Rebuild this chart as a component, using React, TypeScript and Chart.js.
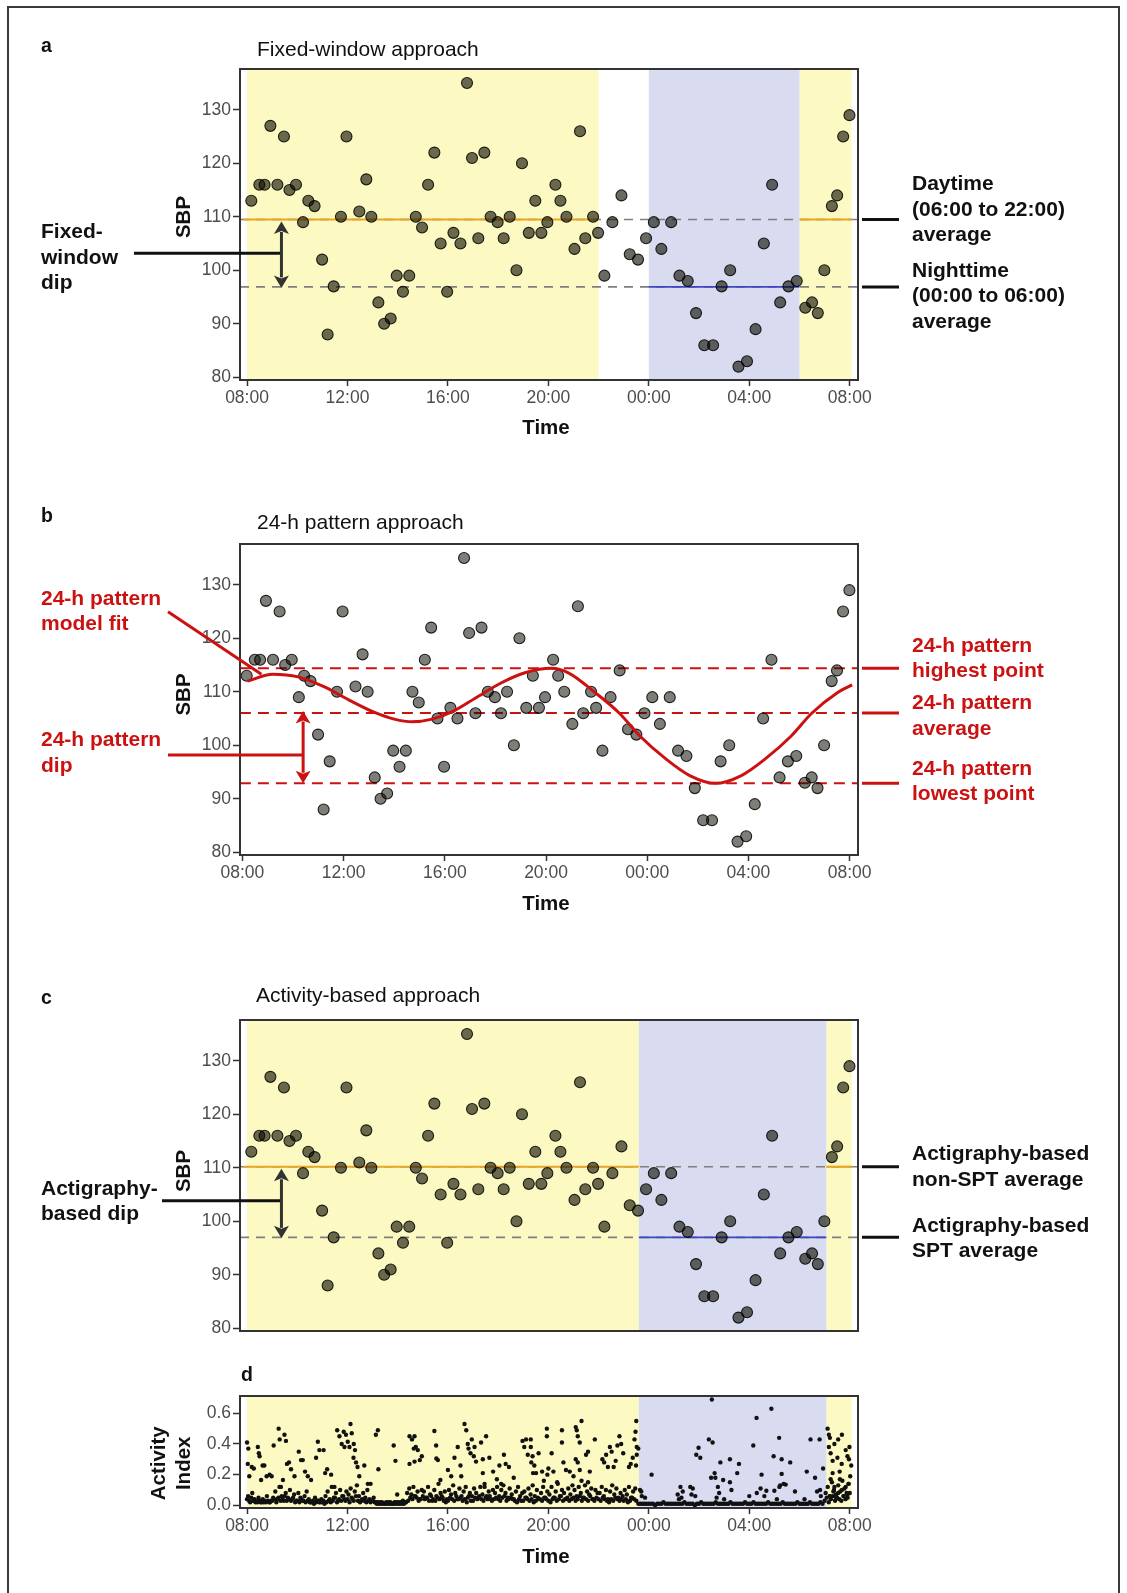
import React, { useEffect, useRef } from "react";
import { Chart, registerables } from "chart.js";
Chart.register(...registerables);

const FONT = "'Liberation Sans', Arial, Helvetica, sans-serif";
const W = 1127;
const BOX_LEFT = 240;
const BOX_RIGHT = 858;
const YELLOW = "#fcfac2";
const LAVENDER = "#d9dcf0";
const RED = "#cc1111";
const ORANGE = "#eba524";
const BLUE = "#3b47c4";
const GREYDASH = "#7f7f7f";

// ---------- DATA (x = hours after 08:00) ----------
const sbpHours = [
  0.17, 0.49, 0.7, 0.93, 1.21, 1.47, 1.69, 1.95, 2.23, 2.44, 2.69, 2.99, 3.21, 3.45, 3.74, 3.96,
  4.47, 4.75, 4.95, 5.23, 5.46, 5.72, 5.96, 6.21, 6.46, 6.72, 6.97, 7.21, 7.46, 7.71, 7.97, 8.22,
  8.5, 8.76, 8.96, 9.21, 9.45, 9.7, 9.98, 10.22, 10.46, 10.73, 10.95, 11.22, 11.48, 11.72, 11.96,
  12.28, 12.48, 12.72, 13.04, 13.26, 13.47, 13.78, 13.98, 14.23, 14.55, 14.91, 15.24, 15.57, 15.89,
  16.2, 16.5, 16.89, 17.22, 17.55, 17.88, 18.21, 18.56, 18.9, 19.24, 19.57, 19.91, 20.25, 20.58,
  20.91, 21.23, 21.56, 21.89, 22.23, 22.5, 22.73, 22.99, 23.29, 23.5, 23.74, 23.99,
];
const sbpValues = [
  113, 116, 116, 127, 116, 125, 115, 116, 109, 113, 112, 102, 88, 97, 110, 125,
  111, 117, 110, 94, 90, 91, 99, 96, 99, 110, 108, 116, 122, 105, 96, 107,
  105, 135, 121, 106, 122, 110, 109, 106, 110, 100, 120, 107, 113, 107, 109,
  116, 113, 110, 104, 126, 106, 110, 107, 99, 109, 114, 103, 102, 106,
  109, 104, 109, 99, 98, 92, 86, 86, 97, 100, 82, 83, 89, 105,
  116, 94, 97, 98, 93, 94, 92, 100, 112, 114, 125, 129,
];

const xTickHours = [0, 4, 8, 12, 16, 20, 24];
const xTickLabels = ["08:00", "12:00", "16:00", "20:00", "00:00", "04:00", "08:00"];
const sbpTicks = [80, 90, 100, 110, 120, 130];
const activityTicks = [0, 0.2, 0.4, 0.6];
const activityTickLabels = ["0.0", "0.2", "0.4", "0.6"];

// panel a
const fixedDayAvg = 109.5;
const fixedNightAvg = 96.9;
const fixedDayWindows = [[0, 14], [22, 24.07]];
const fixedNightWindows = [[16, 22]];
// panel b
const patternHigh = 114.4;
const patternMean = 106.05;
const patternLow = 92.9;
const fitHours = [0.2, 1.2, 2.2, 3.2, 4.2, 5.2, 6.0, 6.7, 7.5, 8.3, 9.2, 10.2, 11.2, 12.2, 12.9, 13.9, 14.9, 15.7, 16.7, 17.7, 18.7, 19.7, 20.7, 21.7, 22.5, 23.5, 24.1];
const fitValues = [112.0, 113.3, 112.8, 111.0, 108.5, 106.2, 104.9, 104.4, 104.9, 106.3, 108.8, 111.6, 113.6, 114.4, 113.5, 110.0, 106.0, 101.8, 97.6, 94.3, 92.9, 94.3, 97.6, 101.8, 106.0, 109.8, 111.3];
// panel c/d
const actiDayAvg = 110.2;
const actiSptAvg = 97.0;
const actiDayWindows = [[0, 15.6], [23.07, 24.08]];
const actiSptWindows = [[15.6, 23.07]];

// activity index (hundredths), one value every 5 min from 08:00
const activityBaseline = [
  4, 3, 5, 3, 2, 2, 3, 2, 2, 2, 3, 2,
  3, 4, 2, 5, 3, 4, 6, 3, 4, 3, 5, 2,
  3, 2, 4, 3, 2, 3, 2, 2, 1, 2, 3, 2,
  2, 1, 2, 3, 2, 3, 5, 2, 4, 3, 6, 3,
  4, 2, 5, 3, 6, 3, 2, 4, 3, 2, 3, 2,
  3, 2, 1, 1, 1, 1, 1, 1, 1, 1, 1, 1,
  1, 1, 1, 1, 2, 3, 5, 4, 6, 5, 3, 4,
  6, 4, 5, 3, 6, 4, 3, 5, 4, 6, 3, 2,
  3, 5, 4, 3, 6, 4, 5, 3, 4, 2, 6, 3,
  3, 5, 4, 6, 4, 3, 5, 4, 6, 3, 4, 5,
  4, 3, 5, 6, 3, 4, 5, 4, 3, 2, 4, 3,
  3, 5, 4, 3, 4, 2, 3, 5, 4, 3, 5, 4,
  3, 2, 4, 5, 3, 4, 6, 3, 4, 5, 3, 4,
  5, 3, 4, 6, 3, 5, 4, 3, 6, 4, 3, 5,
  4, 3, 5, 4, 3, 2, 4, 3, 5, 4, 3, 4,
  3, 4, 2, 3, 5, 4, 3, 1, 1, 1, 1, 1,
  1, 1, 1, 0, 1, 1, 1, 2, 1, 1, 1, 1,
  1, 1, 1, 1, 1, 2, 1, 1, 1, 1, 0, 1,
  1, 2, 1, 1, 1, 1, 1, 1, 2, 1, 1, 1,
  1, 1, 1, 2, 1, 1, 1, 1, 1, 1, 2, 1,
  1, 1, 2, 1, 1, 1, 1, 1, 1, 2, 1, 1,
  1, 1, 1, 1, 2, 1, 1, 1, 1, 1, 1, 2,
  1, 1, 1, 1, 1, 2, 1, 1, 1, 1, 2, 1,
  3, 5, 2, 4, 6, 3, 5, 4, 3, 6, 4, 5,
];
// second daytime reading (hundredths), every 5 min starting 08:02:30 until 23:30
const activityScatter = [
  6, 2, 8, 4, 3, 5, 2, 4, 3, 6, 2, 3,
  5, 9, 4, 12, 6, 3, 8, 5, 10, 4, 7, 3,
  8, 5, 3, 6, 9, 4, 2, 3, 5, 3, 2, 4,
  3, 6, 9, 4, 12, 5, 8, 3, 10, 6, 4, 9,
  7, 11, 4, 9, 13, 6, 3, 8, 5, 10, 4, 3,
  5, 2, 2, 2, 2, 1, 2, 2, 2, 1, 2, 2,
  2, 2, 3, 2, 8, 11, 7, 12, 6, 9, 4, 10,
  9, 5, 12, 7, 3, 10, 6, 14, 8, 5, 9, 4,
  10, 7, 13, 8, 4, 11, 6, 9, 12, 5, 8, 6,
  11, 8, 5, 12, 7, 14, 6, 9, 4, 10, 8, 12,
  6, 10, 13, 8, 5, 11, 7, 4, 9, 12, 6, 8,
  9, 5, 11, 7, 13, 6, 10, 4, 8, 12, 5, 9,
  7, 12, 5, 9, 14, 6, 10, 8, 4, 11, 7, 13,
  10, 6, 12, 8, 5, 13, 9, 7, 11, 4, 10, 8,
  8, 12, 6, 10, 4, 9, 13, 7, 11, 5, 8, 6,
  10, 7, 12, 5, 9, 11,
];
// second morning reading 07:02:30 - 08:00
const activityMorningScatter = [8, 12, 6, 15, 10, 7, 13, 9, 16, 11, 8, 14];
// isolated higher readings [hours after 08:00, activity index]
const activityPeaks: [number, number][] = [
  [0.0, 0.41], [0.05, 0.37], [0.03, 0.27], [0.09, 0.19], [0.19, 0.25], [0.27, 0.24], [0.43, 0.38], [0.47, 0.34],
  [0.5, 0.32], [0.56, 0.165], [0.62, 0.26], [0.69, 0.26], [0.78, 0.19], [0.9, 0.2], [0.98, 0.19], [1.06, 0.39],
  [1.26, 0.5], [1.3, 0.43], [1.49, 0.46], [1.55, 0.42], [1.35, 0.12], [1.43, 0.165], [1.59, 0.27], [1.67, 0.28],
  [1.75, 0.235], [1.89, 0.19], [2.06, 0.35], [2.15, 0.295], [2.22, 0.295], [2.31, 0.22], [2.42, 0.19], [2.55, 0.165],
  [2.75, 0.31], [2.82, 0.415], [2.88, 0.36], [3.05, 0.36], [3.11, 0.21], [3.19, 0.235], [3.35, 0.2], [3.48, 0.12],
  [3.59, 0.49], [3.68, 0.45], [3.77, 0.4], [3.85, 0.48], [3.94, 0.46], [4.01, 0.415], [4.12, 0.53], [4.17, 0.47],
  [4.25, 0.4], [4.3, 0.36], [3.88, 0.38], [4.08, 0.38], [4.24, 0.31], [4.34, 0.28], [4.4, 0.25], [4.47, 0.19],
  [4.67, 0.26], [4.81, 0.14], [4.92, 0.14], [5.13, 0.46], [5.21, 0.49], [5.23, 0.235], [5.84, 0.39], [5.91, 0.29],
  [5.98, 0.07], [6.47, 0.45], [6.57, 0.43], [6.67, 0.45], [6.72, 0.38], [6.64, 0.37], [6.8, 0.36], [6.67, 0.285],
  [6.88, 0.295], [6.96, 0.32], [6.47, 0.27], [7.46, 0.485], [7.53, 0.39], [7.54, 0.305], [7.6, 0.295], [7.7, 0.165],
  [8.26, 0.31], [8.39, 0.38], [8.5, 0.26], [8.66, 0.53], [8.73, 0.49], [8.79, 0.4], [8.82, 0.37], [8.9, 0.34],
  [8.95, 0.43], [9.03, 0.32], [9.06, 0.38], [9.12, 0.285], [9.32, 0.41], [9.39, 0.3], [9.52, 0.45], [9.65, 0.31],
  [8.0, 0.23], [8.13, 0.19], [8.53, 0.19], [9.39, 0.21], [9.46, 0.12], [9.8, 0.22], [9.95, 0.17], [10.05, 0.26],
  [10.12, 0.14], [10.23, 0.33], [10.3, 0.27], [10.43, 0.25], [10.62, 0.18], [10.97, 0.42], [11.04, 0.38], [11.11, 0.43],
  [11.18, 0.33], [11.32, 0.28], [11.39, 0.21], [11.3, 0.43], [11.3, 0.38], [11.37, 0.32], [11.44, 0.26], [11.51, 0.21],
  [11.61, 0.34], [11.75, 0.22], [11.82, 0.16], [11.96, 0.2], [11.94, 0.5], [11.94, 0.45], [12.54, 0.49], [12.54, 0.41],
  [12.13, 0.34], [12.0, 0.24], [12.2, 0.22], [12.35, 0.15], [12.6, 0.28], [12.7, 0.23], [13.09, 0.51], [13.13, 0.49],
  [13.32, 0.55], [13.17, 0.45], [13.25, 0.41], [13.09, 0.3], [13.17, 0.28], [13.25, 0.23], [13.32, 0.16], [13.0, 0.19],
  [12.85, 0.22], [13.58, 0.35], [13.5, 0.33], [13.65, 0.22], [13.58, 0.15], [13.85, 0.43], [14.15, 0.3], [14.3, 0.33],
  [14.22, 0.28], [14.37, 0.25], [14.45, 0.38], [14.52, 0.35], [14.6, 0.25], [14.68, 0.29], [14.83, 0.45], [14.75, 0.39],
  [14.9, 0.4], [14.98, 0.34], [15.21, 0.25], [15.28, 0.27], [15.36, 0.31], [15.43, 0.43], [15.47, 0.48], [15.5, 0.55],
  [15.52, 0.33], [15.52, 0.38], [15.58, 0.37], [15.49, 0.26], [15.65, 0.1], [15.72, 0.06], [15.7, 0.09], [15.85, 0.05],
  [16.11, 0.2], [17.26, 0.12], [17.65, 0.12], [17.75, 0.11], [17.7, 0.07], [17.85, 0.06], [17.89, 0.33], [17.98, 0.375],
  [18.05, 0.31], [18.39, 0.43], [18.54, 0.41], [18.51, 0.69], [18.62, 0.21], [18.48, 0.18], [18.65, 0.18], [18.85, 0.28],
  [18.96, 0.165], [19.23, 0.3], [19.23, 0.15], [19.29, 0.1], [19.59, 0.27], [19.52, 0.21], [20.16, 0.39], [20.29, 0.57],
  [20.49, 0.2], [20.68, 0.095], [20.88, 0.63], [20.97, 0.32], [21.19, 0.44], [21.29, 0.3], [21.29, 0.205], [21.23, 0.13],
  [21.2, 0.12], [21.0, 0.095], [21.37, 0.14], [21.45, 0.135], [21.63, 0.28], [21.82, 0.09], [22.29, 0.22], [22.44, 0.43],
  [22.62, 0.18], [22.8, 0.43], [22.82, 0.1], [22.94, 0.24], [17.15, 0.07], [17.2, 0.04], [17.3, 0.05], [17.35, 0.09],
  [18.7, 0.05], [18.8, 0.08], [18.75, 0.12], [19.0, 0.04], [20.0, 0.06], [20.3, 0.08], [20.45, 0.11], [20.6, 0.06],
  [21.1, 0.04], [22.2, 0.04], [22.7, 0.09], [22.85, 0.06], [23.12, 0.5], [23.17, 0.46], [23.21, 0.44], [23.17, 0.38],
  [23.24, 0.34], [23.32, 0.29], [23.39, 0.4], [23.54, 0.43], [23.69, 0.46], [23.84, 0.36], [23.91, 0.32], [23.99, 0.38],
  [24.06, 0.26], [24.02, 0.19], [23.95, 0.14], [23.84, 0.12], [23.69, 0.1], [23.54, 0.08], [23.39, 0.12], [23.24, 0.17],
  [23.32, 0.21], [23.61, 0.17], [23.76, 0.06], [23.91, 0.07], [24.0, 0.08], [23.21, 0.06], [23.46, 0.05], [23.35, 0.09],
  [23.51, 0.31], [23.68, 0.27], [23.97, 0.3], [23.6, 0.22],
];

// ---------- helpers ----------
function txt(ctx: any, s: string, x: number, y: number, font: string, color: string, align: string = "left", rotate = false) {
  ctx.save();
  ctx.font = font;
  ctx.fillStyle = color;
  ctx.textAlign = align;
  ctx.textBaseline = "middle";
  if (rotate) {
    ctx.translate(x, y);
    ctx.rotate(-Math.PI / 2);
    ctx.fillText(s, 0, 0);
  } else {
    ctx.fillText(s, x, y);
  }
  ctx.restore();
}
function seg(ctx: any, x1: number, y1: number, x2: number, y2: number, color: string, w: number) {
  ctx.save();
  ctx.strokeStyle = color;
  ctx.lineWidth = w;
  ctx.beginPath();
  ctx.moveTo(x1, y1);
  ctx.lineTo(x2, y2);
  ctx.stroke();
  ctx.restore();
}
function dblArrow(ctx: any, x: number, yTop: number, yBot: number, color: string) {
  const hw = 7.5, hh = 12.5;
  ctx.save();
  ctx.strokeStyle = color;
  ctx.fillStyle = color;
  ctx.lineWidth = 3;
  ctx.beginPath();
  ctx.moveTo(x, yTop + hh - 2);
  ctx.lineTo(x, yBot - hh + 2);
  ctx.stroke();
  ctx.beginPath();
  ctx.moveTo(x, yTop);
  ctx.lineTo(x - hw, yTop + hh);
  ctx.lineTo(x, yTop + hh - 3);
  ctx.lineTo(x + hw, yTop + hh);
  ctx.closePath();
  ctx.fill();
  ctx.beginPath();
  ctx.moveTo(x, yBot);
  ctx.lineTo(x - hw, yBot - hh);
  ctx.lineTo(x, yBot - hh + 3);
  ctx.lineTo(x + hw, yBot - hh);
  ctx.closePath();
  ctx.fill();
  ctx.restore();
}

const B20 = `bold 21px ${FONT}`;
const TITLE = `21px ${FONT}`;
const AXT = `bold 20.5px ${FONT}`;
const LET = `bold 19.5px ${FONT}`;
const DY = 2; // vertical text offset

function hline(x1: number, x2: number, y: number, color: string, width: number, dash: number[] | undefined, order: number) {
  return {
    type: "line",
    data: [{ x: x1, y }, { x: x2, y }],
    borderColor: color,
    borderWidth: width,
    borderDash: dash || [],
    pointRadius: 0,
    fill: false,
    order,
  };
}

const sbpPoints = sbpHours.map((h, i) => ({ x: h, y: sbpValues[i] }));
function pointsDataset(alpha: number) {
  return {
    type: "scatter",
    data: sbpPoints,
    pointRadius: 5.5,
    pointBackgroundColor: `rgba(12,12,0,${alpha})`,
    pointBorderColor: "rgba(0,0,0,0.85)",
    pointBorderWidth: 1.1,
    order: 0,
  };
}

type Panel = {
  key: string;
  top: number;
  height: number;
  boxTop: number;
  boxBottom: number;
  xMin: number;
  xMax: number;
  yMin: number;
  yMax: number;
  yTicks: number[];
  yLabels: string[];
  showX: boolean;
  datasets: any[];
  bands?: { windows: number[][]; color: string }[];
  decorate: (ctx: any, c: any, off: number) => void;
};

const panels: Panel[] = [
  {
    key: "a",
    top: 0,
    height: 450,
    boxTop: 69,
    boxBottom: 380,
    xMin: -0.28,
    xMax: 24.33,
    yMin: 79.5,
    yMax: 137.63,
    yTicks: sbpTicks,
    yLabels: sbpTicks.map(String),
    showX: true,
    bands: [
      { windows: fixedDayWindows, color: YELLOW },
      { windows: fixedNightWindows, color: LAVENDER },
    ],
    datasets: [
      pointsDataset(0.61),
      ...fixedDayWindows.map(([a, b], i) => hline(i === 0 ? -0.15 : a, b, fixedDayAvg, ORANGE, 2.2, undefined, 1)),
      ...fixedNightWindows.map(([a, b]) => hline(a, b, fixedNightAvg, BLUE, 1.6, undefined, 1)),
      hline(-0.28, 24.33, fixedDayAvg, GREYDASH, 1.6, [9, 7], 2),
      hline(-0.28, 24.33, fixedNightAvg, GREYDASH, 1.6, [9, 7], 2),
    ],
    decorate: (ctx, c, off) => {
      const x = c.scales.x, y = c.scales.y;
      const o = off - DY;
      txt(ctx, "a", 41, 44.5 - o, LET, "#111");
      txt(ctx, "Fixed-window approach", 257, 48.7 - o, TITLE, "#111");
      txt(ctx, "SBP", 184, 217 - off, AXT, "#111", "center", true);
      txt(ctx, "Time", 546, 426 - o, AXT, "#111", "center");
      ["Fixed-", "window", "dip"].forEach((s, i) => txt(ctx, s, 41, 230.5 + i * 25.6 - o, B20, "#111"));
      const ax = x.getPixelForValue(1.37);
      seg(ctx, 134, y.getPixelForValue(103.2), ax, y.getPixelForValue(103.2), "#111", 3);
      dblArrow(ctx, ax, y.getPixelForValue(fixedDayAvg) + 2, y.getPixelForValue(fixedNightAvg) + 1, "#333");
      seg(ctx, 862, y.getPixelForValue(fixedDayAvg), 899, y.getPixelForValue(fixedDayAvg), "#111", 3);
      seg(ctx, 862, y.getPixelForValue(fixedNightAvg), 899, y.getPixelForValue(fixedNightAvg), "#111", 3);
      ["Daytime", "(06:00 to 22:00)", "average"].forEach((s, i) => txt(ctx, s, 912, 182.5 + i * 25.5 - o, B20, "#111"));
      ["Nighttime", "(00:00 to 06:00)", "average"].forEach((s, i) => txt(ctx, s, 912, 269 + i * 25.5 - o, B20, "#111"));
    },
  },
  {
    key: "b",
    top: 470,
    height: 450,
    boxTop: 544,
    boxBottom: 855,
    xMin: -0.095,
    xMax: 24.33,
    yMin: 79.5,
    yMax: 137.63,
    yTicks: sbpTicks,
    yLabels: sbpTicks.map(String),
    showX: true,
    datasets: [
      {
        type: "line",
        data: fitHours.map((h, i) => ({ x: h, y: fitValues[i] })),
        borderColor: RED,
        borderWidth: 3,
        pointRadius: 0,
        fill: false,
        cubicInterpolationMode: "monotone",
        order: -1,
      },
      pointsDataset(0.53),
      hline(-0.1, 24.4, patternHigh, RED, 2, [11, 7], 2),
      hline(-0.1, 24.4, patternMean, RED, 2, [11, 7], 2),
      hline(-0.1, 24.4, patternLow, RED, 2, [11, 7], 2),
    ],
    decorate: (ctx, c, off) => {
      const x = c.scales.x, y = c.scales.y;
      const o = off - DY;
      txt(ctx, "b", 41, 515 - o, LET, "#111");
      txt(ctx, "24-h pattern approach", 257, 521.5 - o, TITLE, "#111");
      txt(ctx, "SBP", 184, 694.5 - off, AXT, "#111", "center", true);
      txt(ctx, "Time", 546, 902 - o, AXT, "#111", "center");
      ["24-h pattern", "model fit"].forEach((s, i) => txt(ctx, s, 41, 597.3 + i * 25.4 - o, B20, RED));
      ["24-h pattern", "dip"].forEach((s, i) => txt(ctx, s, 41, 738.3 + i * 26 - o, B20, RED));
      seg(ctx, 168, 611.7 - off, x.getPixelForValue(0.75), y.getPixelForValue(113.3), RED, 3);
      const ax = x.getPixelForValue(2.4);
      seg(ctx, 168, y.getPixelForValue(98.2), ax, y.getPixelForValue(98.2), RED, 3);
      dblArrow(ctx, ax, y.getPixelForValue(patternMean) - 2, y.getPixelForValue(patternLow), RED);
      [patternHigh, patternMean, patternLow].forEach((v) => seg(ctx, 862, y.getPixelForValue(v), 899, y.getPixelForValue(v), RED, 3));
      ["24-h pattern", "highest point"].forEach((s, i) => txt(ctx, s, 912, 644.7 + i * 24.5 - o, B20, RED));
      ["24-h pattern", "average"].forEach((s, i) => txt(ctx, s, 912, 701.3 + i * 26 - o, B20, RED));
      ["24-h pattern", "lowest point"].forEach((s, i) => txt(ctx, s, 912, 767.3 + i * 25 - o, B20, RED));
    },
  },
  {
    key: "c",
    top: 950,
    height: 400,
    boxTop: 1020,
    boxBottom: 1331,
    xMin: -0.28,
    xMax: 24.33,
    yMin: 79.5,
    yMax: 137.63,
    yTicks: sbpTicks,
    yLabels: sbpTicks.map(String),
    showX: false,
    bands: [
      { windows: actiDayWindows, color: YELLOW },
      { windows: actiSptWindows, color: LAVENDER },
    ],
    datasets: [
      pointsDataset(0.61),
      ...actiDayWindows.map(([a, b], i) => hline(i === 0 ? -0.15 : a, b, actiDayAvg, ORANGE, 2.2, undefined, 1)),
      ...actiSptWindows.map(([a, b]) => hline(a, b, actiSptAvg, BLUE, 1.6, undefined, 1)),
      hline(-0.28, 24.33, actiDayAvg, GREYDASH, 1.6, [9, 7], 2),
      hline(-0.28, 24.33, actiSptAvg, GREYDASH, 1.6, [9, 7], 2),
    ],
    decorate: (ctx, c, off) => {
      const x = c.scales.x, y = c.scales.y;
      const o = off - DY;
      txt(ctx, "c", 41, 996.7 - o, LET, "#111");
      txt(ctx, "Activity-based approach", 256, 994 - o, TITLE, "#111");
      txt(ctx, "SBP", 184, 1171 - off, AXT, "#111", "center", true);
      ["Actigraphy-", "based dip"].forEach((s, i) => txt(ctx, s, 41, 1187.2 + i * 24.6 - o, B20, "#111"));
      const ax = x.getPixelForValue(1.37);
      seg(ctx, 162, y.getPixelForValue(103.85), ax, y.getPixelForValue(103.85), "#111", 3);
      dblArrow(ctx, ax, y.getPixelForValue(actiDayAvg) + 2, y.getPixelForValue(actiSptAvg) + 1, "#333");
      seg(ctx, 862, y.getPixelForValue(actiDayAvg), 899, y.getPixelForValue(actiDayAvg), "#111", 3);
      seg(ctx, 862, y.getPixelForValue(actiSptAvg), 899, y.getPixelForValue(actiSptAvg), "#111", 3);
      ["Actigraphy-based", "non-SPT average"].forEach((s, i) => txt(ctx, s, 912, 1152.5 + i * 25.7 - o, B20, "#111"));
      ["Actigraphy-based", "SPT average"].forEach((s, i) => txt(ctx, s, 912, 1224.7 + i * 25 - o, B20, "#111"));
    },
  },
  {
    key: "d",
    top: 1350,
    height: 243,
    boxTop: 1396,
    boxBottom: 1508,
    xMin: -0.28,
    xMax: 24.33,
    yMin: -0.0176,
    yMax: 0.713,
    yTicks: activityTicks,
    yLabels: activityTickLabels,
    showX: true,
    bands: [
      { windows: actiDayWindows, color: YELLOW },
      { windows: actiSptWindows, color: LAVENDER },
    ],
    datasets: [
      {
        type: "scatter",
        data: [
          ...activityBaseline.map((v, i) => ({ x: (i * 5) / 60, y: v / 100 })),
          ...activityScatter.map((v, i) => ({ x: (i * 5 + 2.5) / 60, y: v / 100 })),
          ...activityMorningScatter.map((v, i) => ({ x: 23 + (i * 5 + 2.5) / 60, y: v / 100 })),
          ...activityPeaks.map(([h, v]) => ({ x: h, y: v })),
        ],
        pointRadius: 2.2,
        pointBackgroundColor: "#111",
        pointBorderWidth: 0,
        order: 0,
      },
    ],
    decorate: (ctx, c, off) => {
      const o = off - DY;
      txt(ctx, "d", 241, 1373.3 - o, LET, "#111");
      txt(ctx, "Activity", 159.5, 1463.3 - off, AXT, "#111", "center", true);
      txt(ctx, "Index", 184.5, 1463.3 - off, AXT, "#111", "center", true);
      txt(ctx, "Time", 546, 1555 - o, AXT, "#111", "center");
    },
  },
];

function buildConfig(p: Panel): any {
  const decor = {
    id: "decor" + p.key,
    beforeDatasetsDraw(chart: any) {
      const { ctx, chartArea: a, scales } = chart;
      ctx.save();
      (p.bands || []).forEach((b) => {
        ctx.fillStyle = b.color;
        b.windows.forEach(([s, e]) => {
          const x1 = scales.x.getPixelForValue(s);
          const x2 = scales.x.getPixelForValue(e);
          ctx.fillRect(x1, a.top, x2 - x1, a.bottom - a.top);
        });
      });
      ctx.restore();
    },
    afterDatasetsDraw(chart: any) {
      const { ctx, chartArea: a } = chart;
      ctx.save();
      ctx.strokeStyle = "#333";
      ctx.lineWidth = 2;
      ctx.strokeRect(a.left, a.top, a.right - a.left, a.bottom - a.top);
      ctx.restore();
    },
    afterDraw(chart: any) {
      p.decorate(chart.ctx, chart, p.top);
    },
  };
  return {
    type: "scatter",
    data: { datasets: p.datasets },
    options: {
      animation: false,
      responsive: false,
      maintainAspectRatio: false,
      events: [],
      layout: { padding: { top: p.boxTop - p.top, right: W - BOX_RIGHT, left: 0, bottom: 0 } },
      plugins: { legend: { display: false }, tooltip: { enabled: false }, title: { display: false } },
      scales: {
        x: {
          type: "linear",
          min: p.xMin,
          max: p.xMax,
          afterBuildTicks: (s: any) => {
            s.ticks = xTickHours.map((v) => ({ value: v }));
          },
          ticks: {
            display: p.showX,
            autoSkip: false,
            maxRotation: 0,
            padding: 2,
            color: "#4d4d4d",
            font: { family: FONT, size: 17.5 },
            callback: (v: any) => xTickLabels[xTickHours.indexOf(Number(v))],
          },
          grid: { display: p.showX, drawOnChartArea: false, drawTicks: true, tickLength: 6, tickColor: "#333", tickWidth: 1.5 },
          border: { display: false },
          afterFit: (s: any) => {
            s.height = p.top + p.height - p.boxBottom;
          },
        },
        y: {
          type: "linear",
          min: p.yMin,
          max: p.yMax,
          afterBuildTicks: (s: any) => {
            s.ticks = p.yTicks.map((v) => ({ value: v }));
          },
          ticks: {
            autoSkip: false,
            padding: 2,
            color: "#4d4d4d",
            font: { family: FONT, size: 17.5 },
            callback: (v: any) => p.yLabels[p.yTicks.indexOf(Number(v))],
          },
          grid: { drawOnChartArea: false, drawTicks: true, tickLength: 7, tickColor: "#333", tickWidth: 1.5 },
          border: { display: false },
          afterFit: (s: any) => {
            s.width = BOX_LEFT;
          },
        },
      },
    },
    plugins: [decor],
  };
}

function PanelChart({ p }: { p: Panel }) {
  const ref = useRef<HTMLCanvasElement>(null);
  useEffect(() => {
    const chart = new Chart(ref.current as HTMLCanvasElement, buildConfig(p));
    return () => chart.destroy();
  }, []);
  return (
    <canvas
      ref={ref}
      width={W}
      height={p.height}
      style={{ position: "absolute", left: 0, top: p.top, width: W, height: p.height }}
    />
  );
}

export default function App() {
  return (
    <div style={{ position: "absolute", left: 0, top: 0, width: W, height: 1593, overflow: "hidden", background: "#fff" }}>
      {panels.map((p) => (
        <PanelChart key={p.key} p={p} />
      ))}
      <div
        style={{
          position: "absolute",
          left: 7,
          top: 6,
          width: 1113,
          height: 1620,
          boxSizing: "border-box",
          border: "2px solid #3a3a3a",
          pointerEvents: "none",
        }}
      />
    </div>
  );
}
